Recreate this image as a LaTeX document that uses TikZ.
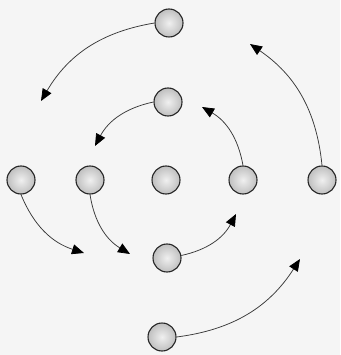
\documentclass[tikz,border=0pt]{standalone}
\usetikzlibrary{arrows.meta}
\begin{document}
\begin{tikzpicture}[x=1pt,y=-1pt,
  ball/.style={circle,minimum size=28pt,inner sep=0pt,draw=gray!30!black,line width=1.1pt,
    inner color=gray!12,outer color=gray!50},
  flow/.style={draw=gray!45!black,line width=0.75pt,
    -{Triangle[length=12pt,width=10pt,color=black,fill=black]},bend right=25}]
\fill[gray!8] (0,0) rectangle (340,355);
\useasboundingbox (0,0) rectangle (340,355);
\node[ball] (t)  at (169,23) {};
\node[ball] (it) at (168,102) {};
\node[ball] (lo) at (21,180) {};
\node[ball] (li) at (90,180) {};
\node[ball] (c)  at (166,180) {};
\node[ball] (ri) at (243,180) {};
\node[ball] (ro) at (322,180) {};
\node[ball] (ib) at (167,258) {};
\node[ball] (b)  at (162,337) {};
\coordinate (e1) at (41,101);
\coordinate (e2) at (84,253);
\coordinate (e3) at (300,259);
\coordinate (e4) at (250,44);
\coordinate (f1) at (95,146);
\coordinate (f2) at (130,254);
\coordinate (f3) at (236,214);
\coordinate (f4) at (202,107);
\draw[flow] (t.west) to (e1);
\draw[flow] (lo.south) to (e2);
\draw[flow] (b.east) to (e3);
\draw[flow] (ro.north) to (e4);
\draw[flow] (it.west) to (f1);
\draw[flow] (li.south) to (f2);
\draw[flow] (ib.10) to (f3);
\draw[flow] (ri.north) to (f4);
\end{tikzpicture}
\end{document}
